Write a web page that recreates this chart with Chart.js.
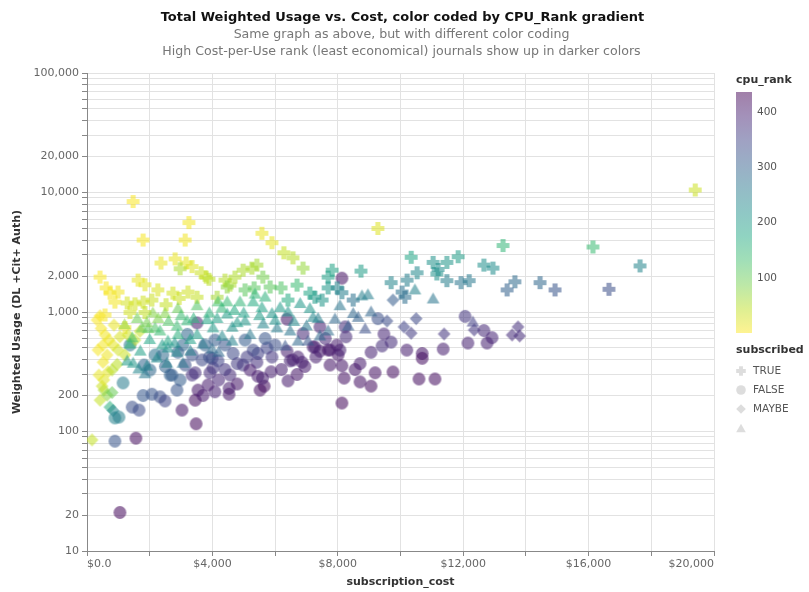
<!DOCTYPE html>
<html>
<head>
<meta charset="utf-8">
<script src="https://cdn.jsdelivr.net/npm/chart.js@4.4.0/dist/chart.umd.min.js"></script>
<style>
  html, body { margin: 0; padding: 0; background: #fff; }
</style>
</head>
<body>
<canvas id="myChart" width="809" height="592"></canvas>
<script>
// journals: [subscription_cost, weighted usage, cpu_rank]
const subscribedTrue = [
  [19400, 10500, 35], [1470, 8400, 4], [3250, 5600, 8], [1790, 4000, 6], [3130, 4000, 10],
  [5580, 4560, 14], [5900, 3800, 18], [9280, 5000, 22], [13270, 3600, 150], [16140, 3500, 140],
  [17640, 2430, 240], [14930, 1530, 320], [16650, 1550, 330], [14450, 1760, 290], [13650, 1790, 285],
  [13400, 1530, 300], [12660, 2470, 220], [12950, 2330, 225], [11840, 2900, 195], [11480, 2600, 210],
  [10340, 2870, 180], [11200, 2270, 225], [11160, 2080, 215], [10530, 2130, 230], [8740, 2200, 195],
  [7820, 2240, 185], [7690, 1960, 190], [7690, 1590, 205], [11480, 1830, 250], [11930, 1760, 265],
  [12190, 1830, 258], [9700, 1760, 240], [10210, 1850, 250], [10050, 1470, 270], [10140, 1330, 278],
  [8490, 1260, 270], [8130, 1450, 250], [7980, 1590, 240], [7110, 1440, 180], [6700, 1680, 140],
  [6280, 3130, 40], [6570, 2840, 50], [6890, 2330, 70], [2360, 2570, 14], [2810, 2780, 14],
  [3160, 2570, 18], [3350, 2400, 22], [2970, 2300, 55], [415, 1960, 3], [610, 1590, 5],
  [735, 1440, 6], [890, 1210, 8], [1630, 1850, 15], [1850, 1690, 20], [2260, 1530, 25],
  [1280, 1190, 28], [1530, 1170, 30], [1790, 1210, 32], [2520, 1150, 40], [2740, 1440, 30],
  [2940, 1300, 35], [3220, 1470, 32], [3510, 1330, 40], [3640, 2130, 35], [3800, 1960, 40],
  [3890, 1880, 45], [4400, 1850, 50], [4560, 1680, 55], [4720, 1960, 52], [4980, 2240, 55],
  [5260, 2330, 56], [5420, 2470, 60], [5610, 1960, 90], [5840, 1620, 110], [5040, 1530, 110],
  [5330, 1590, 112], [575, 944, 6], [1210, 740, 12], [1370, 990, 30], [1850, 990, 40],
  [4150, 1330, 60], [4470, 1620, 75], [6190, 1590, 120], [7270, 1330, 200], [11040, 2600, 215],
  [7500, 1260, 210], [6410, 1260, 170], [990, 1470, 10], [2070, 1260, 35]
];
const subscribedFalse = [
  [1050, 21, 425], [1560, 88, 420], [890, 83, 320], [890, 130, 245], [1020, 132, 250],
  [1150, 255, 255], [1440, 160, 330], [1660, 151, 335], [1790, 200, 315], [2070, 205, 320],
  [2330, 195, 330], [2490, 180, 345], [2650, 297, 300], [2970, 270, 305], [2870, 222, 320],
  [3030, 151, 410], [3480, 116, 425], [3450, 183, 420], [3540, 222, 410], [4080, 215, 395],
  [4530, 230, 400], [4530, 205, 410], [5520, 222, 420], [5650, 240, 420], [6410, 265, 405],
  [5870, 316, 400], [5450, 290, 405], [4560, 297, 385], [3920, 310, 380], [4020, 340, 370],
  [7210, 510, 405], [7430, 470, 405], [7690, 481, 410], [8010, 437, 410], [6480, 390, 395],
  [6730, 420, 400], [6950, 350, 405], [6380, 470, 400], [6380, 870, 410], [3510, 810, 400],
  [8130, 1920, 415], [9280, 880, 330], [12060, 920, 370], [12660, 700, 385], [12920, 610, 390],
  [12760, 550, 395], [12150, 550, 395], [11360, 490, 400], [10690, 450, 410], [10690, 410, 418],
  [9760, 315, 420], [10590, 275, 420], [11100, 275, 420], [9190, 310, 415], [9060, 240, 420],
  [8710, 260, 415], [8200, 280, 415], [8130, 173, 425], [8550, 330, 410], [8710, 370, 405],
  [8130, 355, 410], [9060, 460, 395], [9410, 520, 380], [9470, 655, 390], [8230, 750, 380],
  [8260, 620, 385], [8070, 480, 395], [3350, 437, 330], [3670, 397, 340], [3990, 410, 345],
  [4180, 390, 350], [4660, 450, 340], [4790, 370, 360], [4980, 360, 370], [5420, 380, 375],
  [5450, 450, 355], [5740, 500, 350], [5900, 420, 370], [5300, 480, 340], [3450, 310, 380],
  [3350, 297, 375], [2710, 297, 310], [3130, 360, 330], [3060, 530, 290], [3760, 530, 300],
  [4080, 583, 310], [4400, 530, 320], [5040, 583, 310], [5680, 600, 320], [6000, 530, 330],
  [6570, 397, 400], [6860, 380, 400], [7270, 510, 400], [7750, 481, 405], [7970, 530, 405],
  [6890, 660, 385], [7430, 750, 395], [7750, 360, 410], [5200, 327, 405], [4790, 250, 410],
  [3860, 245, 405], [2170, 437, 270], [2010, 327, 290], [2900, 460, 300], [2420, 437, 285],
  [1820, 360, 290], [1370, 530, 260], [3200, 650, 290], [3900, 420, 330], [4400, 330, 370],
  [5100, 420, 360], [5600, 280, 400], [6200, 330, 400], [6700, 300, 410], [7300, 420, 400],
  [7600, 600, 390], [2500, 350, 300], [4200, 270, 390], [3700, 200, 405], [9700, 560, 380],
  [10200, 480, 400]
];
const subscribedMaybe = [
  [160, 85, 40], [730, 160, 160], [415, 183, 40], [540, 222, 60], [640, 202, 75],
  [800, 212, 100], [480, 240, 35], [380, 297, 15], [540, 270, 20], [670, 316, 18],
  [510, 380, 10], [640, 437, 12], [510, 530, 8], [575, 642, 9], [450, 730, 6],
  [415, 930, 5], [700, 583, 12], [830, 530, 18], [1050, 620, 25], [990, 481, 30],
  [1210, 437, 35], [860, 778, 15], [1310, 640, 30], [1530, 583, 40], [1690, 690, 38],
  [960, 365, 45], [800, 327, 50], [830, 150, 240], [350, 481, 6], [320, 858, 4],
  [9760, 1260, 310], [10500, 880, 340], [10110, 750, 350], [10340, 665, 360], [11390, 655, 370],
  [12350, 707, 365], [13560, 642, 380], [13750, 750, 375], [13800, 630, 380], [9570, 840, 335]
];
const subscribedNone = [
  [1750, 750, 100], [1950, 740, 110], [2170, 750, 120], [2870, 778, 140], [2900, 660, 160],
  [2580, 583, 175], [3290, 600, 190], [3510, 660, 195], [4020, 750, 200], [4150, 900, 190],
  [4470, 980, 195], [4790, 830, 200], [4310, 640, 230], [4630, 583, 245], [5040, 858, 210],
  [5300, 1240, 170], [5580, 1110, 185], [5900, 990, 205], [6160, 1110, 200], [6410, 1020, 215],
  [6800, 1200, 205], [7110, 1090, 210], [7210, 920, 235], [5620, 810, 240], [6060, 750, 255],
  [6480, 707, 265], [6730, 583, 290], [7690, 707, 285], [7430, 642, 290], [4880, 1240, 150],
  [4470, 1240, 140], [4180, 1240, 130], [3510, 1150, 120], [2900, 1090, 100], [2490, 990, 80],
  [2270, 900, 85], [1910, 830, 90], [1440, 620, 130], [1370, 550, 150], [1280, 397, 200],
  [1470, 380, 210], [1910, 360, 240], [2230, 420, 230], [2550, 380, 250], [2870, 470, 240],
  [3060, 380, 265], [1650, 340, 240], [1850, 310, 260], [2580, 510, 220], [8770, 1390, 250],
  [8960, 1420, 252], [8490, 990, 290], [8650, 920, 300], [9060, 1020, 295], [8870, 735, 330],
  [10460, 1560, 245], [11040, 1310, 265], [12310, 840, 355], [8070, 1150, 265], [7910, 890, 290],
  [8330, 778, 310], [5360, 1440, 150], [5680, 1360, 160], [7370, 900, 250], [4630, 760, 215],
  [3830, 880, 180], [3190, 860, 150], [2330, 707, 140], [3700, 550, 260], [3990, 500, 280],
  [5200, 660, 260], [6320, 530, 320], [7050, 583, 320], [1600, 900, 95], [2100, 1000, 80],
  [2600, 850, 120], [3000, 950, 140], [3400, 900, 160], [3900, 1000, 160], [4300, 1100, 150],
  [4700, 1050, 170], [5000, 1000, 190], [5500, 950, 195], [6000, 870, 215], [6600, 850, 230],
  [7000, 780, 260], [2000, 600, 180], [2400, 540, 200], [2800, 560, 215], [3300, 480, 250],
  [4200, 470, 290], [1700, 480, 190], [1200, 800, 70]
];

const statusLabels = ['TRUE', 'FALSE', 'MAYBE', ''];
const xTickValues = [0, 2000, 4000, 6000, 8000, 10000, 12000, 14000, 16000, 18000, 20000];
const xLabelledTicks = [0, 4000, 8000, 12000, 16000, 20000];
const yTickValues = [10, 20, 30, 40, 50, 60, 70, 80, 90, 100, 200, 300, 400, 500, 600, 700, 800, 900,
  1000, 2000, 3000, 4000, 5000, 6000, 7000, 8000, 9000, 10000, 20000, 30000, 40000, 50000, 60000,
  70000, 80000, 90000, 100000];
const yLabelledTicks = [10, 20, 100, 200, 1000, 2000, 10000, 20000, 100000];
const rankTicks = [100, 200, 300, 400];
const rankDomain = [1, 436];

const titleText = 'Total Weighted Usage vs. Cost, color coded by CPU_Rank gradient';
const subtitleLines = ['Same graph as above, but with different color coding',
  'High Cost-per-Use rank (least economical) journals show up in darker colors'];

// viridis, low rank = yellow, high rank = purple
const viridis = ['#440154', '#482475', '#414487', '#355f8d', '#2a788e', '#21918c',
  '#22a884', '#44bf70', '#7ad151', '#bddf26', '#fde725'];
const MARK_ALPHA = 0.56;

function hexRgb(h) {
  return [parseInt(h.slice(1, 3), 16), parseInt(h.slice(3, 5), 16), parseInt(h.slice(5, 7), 16)];
}
function rankColor(rank, alpha) {
  let t = 1 - (rank - rankDomain[0]) / (rankDomain[1] - rankDomain[0]);
  t = Math.max(0, Math.min(1, t)) * (viridis.length - 1);
  const i = Math.min(Math.floor(t), viridis.length - 2);
  const f = t - i;
  const a = hexRgb(viridis[i]), b = hexRgb(viridis[i + 1]);
  const c = a.map((v, k) => Math.round(v + (b[k] - v) * f));
  return 'rgba(' + c[0] + ',' + c[1] + ',' + c[2] + ',' + alpha + ')';
}

const shapeCache = {};
function tracePath(g, shape, r) {
  g.beginPath();
  if (shape === 'cross') {
    const s = r / 2.5;
    g.moveTo(-r, -s); g.lineTo(-r, s); g.lineTo(-s, s); g.lineTo(-s, r);
    g.lineTo(s, r); g.lineTo(s, s); g.lineTo(r, s); g.lineTo(r, -s);
    g.lineTo(s, -s); g.lineTo(s, -r); g.lineTo(-s, -r); g.lineTo(-s, -s);
  } else if (shape === 'diamond') {
    g.moveTo(-r, 0); g.lineTo(0, -r); g.lineTo(r, 0); g.lineTo(0, r);
  } else if (shape === 'triangle') {
    const h = r * Math.sqrt(3) / 2;
    g.moveTo(0, -h); g.lineTo(-r, h); g.lineTo(r, h);
  } else {
    g.arc(0, 0, r, 0, Math.PI * 2);
  }
  g.closePath();
}
function shapeImage(shape, color, r) {
  const key = shape + color + r;
  if (shapeCache[key]) return shapeCache[key];
  const size = Math.ceil(r * 2 + 2);
  const c = document.createElement('canvas');
  c.width = size; c.height = size;
  const g = c.getContext('2d');
  g.translate(size / 2, size / 2);
  g.fillStyle = color;
  tracePath(g, shape, r);
  g.fill();
  shapeCache[key] = c;
  return c;
}

const SYMBOL_R = 6.4;
const groups = [
  { rows: subscribedNone, shape: 'triangle', label: statusLabels[3] },
  { rows: subscribedMaybe, shape: 'diamond', label: statusLabels[2] },
  { rows: subscribedTrue, shape: 'cross', label: statusLabels[0] },
  { rows: subscribedFalse, shape: 'circle', label: statusLabels[1] }
];
const legendOrder = [
  { shape: 'cross', label: statusLabels[0] },
  { shape: 'circle', label: statusLabels[1] },
  { shape: 'diamond', label: statusLabels[2] },
  { shape: 'triangle', label: statusLabels[3] }
];

const decorations = {
  id: 'decorations',
  afterDraw(chart) {
    const ctx = chart.ctx, area = chart.chartArea;
    const cx = (area.left + area.right) / 2;
    ctx.save();
    ctx.textAlign = 'center';
    ctx.textBaseline = 'middle';
    ctx.fillStyle = '#111';
    ctx.font = 'bold 13px "DejaVu Sans"';
    ctx.fillText(titleText, cx + 2, 18);
    ctx.fillStyle = '#777';
    ctx.font = '12.6px "DejaVu Sans"';
    subtitleLines.forEach((t, i) => ctx.fillText(t, cx + 1, 35 + i * 16.5));

    // colour legend
    const lx = area.right + 22;
    ctx.textAlign = 'left';
    ctx.fillStyle = '#333';
    ctx.font = 'bold 11px "DejaVu Sans"';
    ctx.fillText('cpu_rank', lx, 80);
    const top = 92, bottom = 333;
    const grad = ctx.createLinearGradient(0, bottom, 0, top);
    for (let p = 0; p <= 10; p++) {
      grad.addColorStop(p / 10, rankColor(rankDomain[0] + p / 10 * (rankDomain[1] - rankDomain[0]), 0.5));
    }
    ctx.fillStyle = grad;
    ctx.fillRect(lx, top, 16, bottom - top);
    ctx.fillStyle = '#555';
    ctx.font = '10.5px "DejaVu Sans"';
    rankTicks.forEach(v => {
      const y = bottom - (v - rankDomain[0]) / (rankDomain[1] - rankDomain[0]) * (bottom - top);
      ctx.fillText(String(v), lx + 21, y);
    });

    // shape legend
    ctx.fillStyle = '#333';
    ctx.font = 'bold 11px "DejaVu Sans"';
    ctx.fillText('subscribed', lx, 350);
    ctx.font = '10.5px "DejaVu Sans"';
    legendOrder.forEach((item, i) => {
      const y = 371 + i * 19;
      ctx.save();
      ctx.translate(lx + 5, y);
      ctx.fillStyle = 'rgba(170,170,170,0.4)';
      tracePath(ctx, item.shape, 4.8);
      ctx.fill();
      ctx.restore();
      ctx.fillStyle = '#555';
      ctx.fillText(item.label, lx + 17, y);
    });
    ctx.restore();
  }
};

new Chart(document.getElementById('myChart'), {
  type: 'scatter',
  data: {
    datasets: groups.map(g => ({
      label: g.label,
      data: g.rows.map(r => ({ x: r[0], y: r[1], rank: r[2] })),
      pointRadius: 6,
      pointHoverRadius: 6,
      pointStyle: ctx => ctx.raw ? shapeImage(g.shape, rankColor(ctx.raw.rank, MARK_ALPHA), SYMBOL_R) : 'circle'
    }))
  },
  options: {
    responsive: false,
    animation: false,
    layout: { padding: { top: 73, right: 95, bottom: 0, left: 0 } },
    plugins: {
      legend: { display: false },
      title: { display: false },
      tooltip: { enabled: false }
    },
    scales: {
      x: {
        type: 'linear',
        min: 0,
        max: 20000,
        afterFit: s => { s.height = 41; },
        afterBuildTicks: s => { s.ticks = xTickValues.map(v => ({ value: v })); },
        grid: { color: '#e2e2e2', tickColor: '#888', tickLength: 5 },
        border: { color: '#888' },
        ticks: {
          autoSkip: false,
          maxRotation: 0,
          align: 'inner',
          padding: 2,
          color: '#666',
          font: { family: 'DejaVu Sans', size: 11 },
          callback: v => xLabelledTicks.includes(v) ? (v === 0 ? '$0.0' : '$' + v.toLocaleString('en-US')) : ''
        },
        title: {
          display: true,
          text: 'subscription_cost',
          color: '#333',
          font: { family: 'DejaVu Sans', size: 11, weight: 'bold' },
          padding: { top: 0, bottom: 3 }
        }
      },
      y: {
        type: 'logarithmic',
        min: 10,
        max: 100000,
        afterFit: s => { s.width = 87; },
        afterBuildTicks: s => { s.ticks = yTickValues.map(v => ({ value: v })); },
        grid: { color: '#e2e2e2', tickColor: '#888', tickLength: 5 },
        border: { color: '#888' },
        ticks: {
          autoSkip: false,
          padding: 3,
          color: '#666',
          font: { family: 'DejaVu Sans', size: 11 },
          callback: v => yLabelledTicks.includes(v) ? v.toLocaleString('en-US') : ''
        },
        title: {
          display: true,
          text: 'Weighted Usage (DL +Cit+ Auth)',
          color: '#333',
          font: { family: 'DejaVu Sans', size: 11, weight: 'bold' },
          padding: { top: 11, bottom: 0 }
        }
      }
    }
  },
  plugins: [decorations]
});
</script>
</body>
</html>
